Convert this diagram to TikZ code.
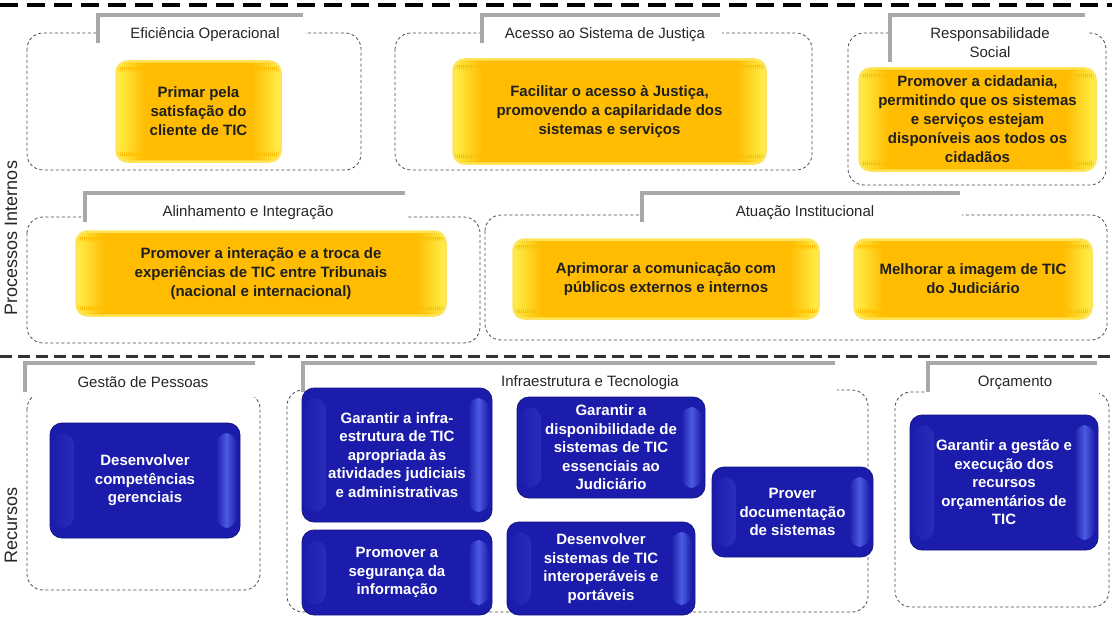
\documentclass[tikz,border=0pt]{standalone}
\usepackage{fontspec}
\setmainfont{Liberation Sans}
\definecolor{ycore}{HTML}{FFBC00}
\definecolor{yedge}{HTML}{FFEE48}
\definecolor{yglow}{HTML}{FFE45A}
\definecolor{bcore}{HTML}{1C1CAC}
\definecolor{bhl}{HTML}{4B5BE0}
\definecolor{grpc}{HTML}{4A4A4A}
\definecolor{brkc}{HTML}{A8A8A8}
\begin{document}
\begin{tikzpicture}[x=1pt,y=-1pt,
  grp/.style={draw=grpc, dash pattern=on 3pt off 2.5pt, line width=0.8pt, rounded corners=16pt},
  gapfill/.style={fill=white},
  brk/.style={draw=brkc, line width=3.5pt},
  hdr/.style={font=\fontsize{15}{19}\selectfont, text=black!85, align=center, inner sep=0pt},
  side/.style={font=\fontsize{18}{20}\selectfont, rotate=90, inner sep=0pt, text=black!85},
  sepline/.style={line width=4.5pt, dash pattern=on 18pt off 9pt},
  sepline2/.style={line width=3pt, dash pattern=on 12pt off 6pt, draw=black!80},
  ybox/.style={rounded corners=11pt, draw=yglow, line width=2.5pt, fill=ycore, align=center,
    font=\bfseries\fontsize{15}{19}\selectfont, text=black!88, inner sep=0pt,
    path picture={
      \foreach \i [evaluate=\i as \p using {int(100-\i*7)}] in {0,...,14}{
        \fill[yedge!\p!ycore] ([xshift=\i*2pt]path picture bounding box.south west) rectangle ([xshift=\i*2pt+2.3pt]path picture bounding box.north west);
        \fill[yedge!\p!ycore] ([xshift=-\i*2pt]path picture bounding box.south east) rectangle ([xshift=-\i*2pt-2.3pt]path picture bounding box.north east);
      }
    }},
  bbox/.style={rounded corners=12pt, draw=bcore!75!black, line width=0.8pt, fill=bcore, align=center,
    font=\bfseries\fontsize{15}{18.5}\selectfont, text=white, inner sep=0pt,
    path picture={
      \shade[left color=bcore, right color=bcore, middle color=bhl] ([xshift=3pt,yshift=10pt]path picture bounding box.south west) rectangle ([xshift=24pt,yshift=-10pt]path picture bounding box.north west);
      \shade[left color=bcore, right color=bcore, middle color=bhl] ([xshift=-24pt,yshift=10pt]path picture bounding box.south east) rectangle ([xshift=-3pt,yshift=-10pt]path picture bounding box.north east);
    }}
]
\useasboundingbox (0,0) rectangle (1112,618);

% separators
\coordinate (s1a) at (0,5);   \coordinate (s1b) at (1112,5);
\coordinate (s2a) at (0,356); \coordinate (s2b) at (1112,356);
\draw[sepline] (s1a) -- (s1b);
\draw[sepline2] (s2a) -- (s2b);

% side labels
\node[side] (lproc) at (11,238) {Processos Internos};
\node[side] (lrec) at (11,525) {Recursos};

% ---------- group frames ----------
% G1
\draw[grp] (27,33) rectangle (361,170);
\fill[gapfill] (96,27) rectangle (305,40);
\draw[brk] (98,43) |- (303,15);
\node[hdr] (h1) at (205,35) {Eficiência Operacional};
% G2
\draw[grp] (395,33) rectangle (812,170);
\fill[gapfill] (480,27) rectangle (722,40);
\draw[brk] (482,43) |- (720,15);
\node[hdr] (h2) at (605,35) {Acesso ao Sistema de Justiça};
% G3
\draw[grp] (848,33) rectangle (1106,185);
\fill[gapfill] (888,27) rectangle (1087,40);
\draw[brk] (890,62) |- (1085,15);
\node[hdr] (h3) at (990,43) {Responsabilidade\\Social};
% G4
\draw[grp] (27,217) rectangle (480,343);
\fill[gapfill] (83,211) rectangle (407,224);
\draw[brk] (85,222) |- (405,193);
\node[hdr] (h4) at (248,213) {Alinhamento e Integração};
% G5
\draw[grp] (485,215) rectangle (1107,340);
\fill[gapfill] (640,209) rectangle (962,222);
\draw[brk] (642,222) |- (960,193);
\node[hdr] (h5) at (805,213) {Atuação Institucional};
% G6
\draw[grp] (27,393) rectangle (260,590);
\fill[gapfill] (23,388) rectangle (257,397);
\draw[brk] (25,392) |- (255,363);
\node[hdr] (h6) at (143,382) {Gestão de Pessoas};
% G7
\draw[grp] (287,390) rectangle (868,612);
\fill[gapfill] (301,385) rectangle (837,396);
\draw[brk] (303,392) |- (835,363);
\node[hdr] (h7) at (590,383) {Infraestrutura e Tecnologia};
% G8
\draw[grp] (895,392) rectangle (1109,607);
\fill[gapfill] (926,386) rectangle (1099,397);
\draw[brk] (928,392) |- (1097,363);
\node[hdr] (h8) at (1015,383) {Orçamento};

% ---------- yellow objectives ----------
\node[ybox, minimum width=164, minimum height=100] (y1) at (198.5,111.5) {Primar pela\\satisfação do\\cliente de TIC};
\node[ybox, minimum width=312, minimum height=104] (y2) at (609.5,111.5) {Facilitar o acesso à Justiça,\\promovendo a capilaridade dos\\sistemas e serviços};
\node[ybox, minimum width=236, minimum height=102] (y3) at (977.5,119.5) {Promover a cidadania,\\permitindo que os sistemas\\e serviços estejam\\disponíveis aos todos os\\cidadãos};
\node[ybox, minimum width=369, minimum height=84] (y4) at (261,273.5) {Promover a interação e a troca de\\experiências de TIC entre Tribunais\\(nacional e internacional)};
\node[ybox, minimum width=305, minimum height=79] (y5) at (666,279) {Aprimorar a comunicação com\\públicos externos e internos};
\node[ybox, minimum width=237, minimum height=79] (y6) at (973,279) {Melhorar a imagem de TIC\\do Judiciário};

% ---------- blue objectives ----------
\node[bbox, minimum width=190, minimum height=115] (b1) at (145,480.5) {Desenvolver\\competências\\gerenciais};
\node[bbox, minimum width=190, minimum height=134] (b2) at (397,455) {Garantir a infra-\\estrutura de TIC\\apropriada às\\atividades judiciais\\e administrativas};
\node[bbox, minimum width=188, minimum height=101] (b3) at (611,447.5) {Garantir a\\disponibilidade  de\\sistemas de TIC\\essenciais ao\\Judiciário};
\node[bbox, minimum width=190, minimum height=85] (b4) at (397,572.5) {Promover a\\segurança da\\informação};
\node[bbox, minimum width=188, minimum height=93] (b5) at (601,568.5) {Desenvolver\\sistemas de TIC\\interoperáveis e\\portáveis};
\node[bbox, minimum width=161, minimum height=90] (b6) at (792.5,512) {Prover\\documentação\\de sistemas};
\node[bbox, minimum width=188, minimum height=135] (b7) at (1004,482.5) {Garantir a gestão e\\execução dos\\recursos\\orçamentários de\\TIC};
\end{tikzpicture}
\end{document}
